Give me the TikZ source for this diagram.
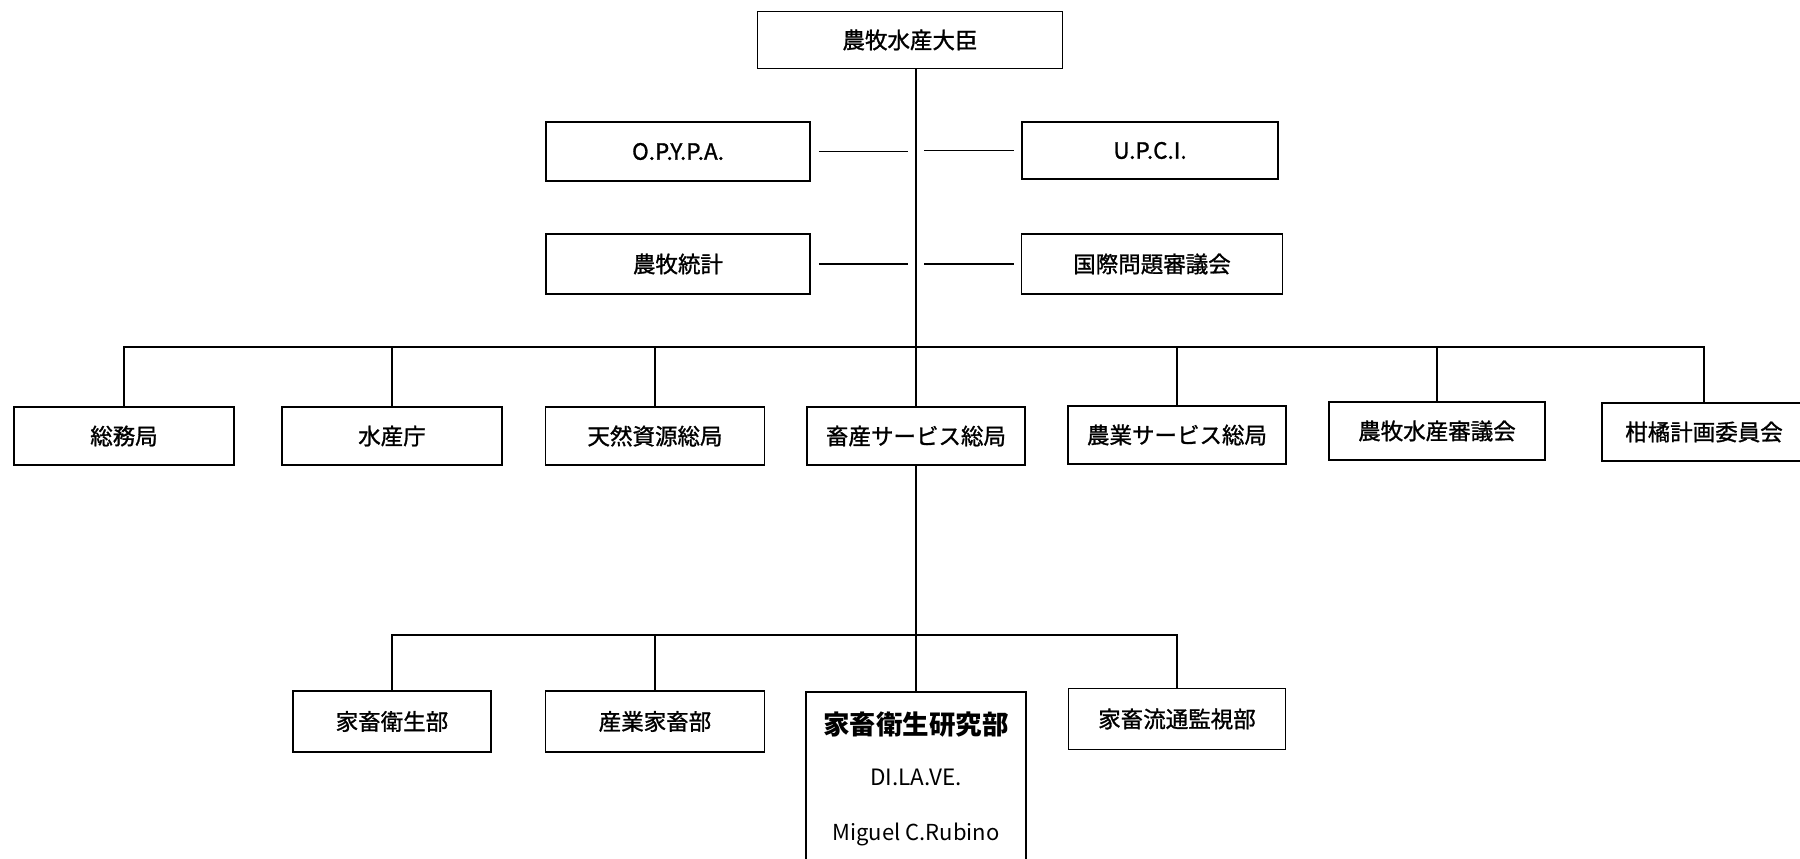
\documentclass[tikz,border=0pt]{standalone}
\usepackage{fontspec}
\setmainfont{Noto Sans CJK JP}
\newfontfamily\jpheavy[FakeBold=1.2]{Noto Sans CJK JP}
\begin{document}
\begin{tikzpicture}[x=1pt,y=-1pt,
  box/.style={draw, line width=1.8pt, inner sep=0pt, font=\jpheavy\fontsize{22.5}{26}\selectfont},
  ln/.style={line width=1.8pt},
  lbl/.style={inner sep=0pt}]
\useasboundingbox (0,0) rectangle (1800,859);
% top
\node[box, minimum width=305, minimum height=57] (min) at (910,40) {農牧水産大臣};
% staff units
\node[box, minimum width=264, minimum height=59] (opypa) at (678,151.5) {O.P.Y.P.A.};
\node[box, minimum width=256, minimum height=57] (upci) at (1150,150.5) {U.P.C.I.};
\node[box, minimum width=264, minimum height=60] (stat) at (678,264) {農牧統計};
\node[box, minimum width=261, minimum height=60] (intl) at (1152,264) {国際問題審議会};
% row 1
\node[box, minimum width=220, minimum height=58] (somu) at (124,436) {総務局};
\node[box, minimum width=220, minimum height=58] (suisan) at (392,436) {水産庁};
\node[box, minimum width=219, minimum height=58] (tennen) at (655,436) {天然資源総局};
\node[box, minimum width=218, minimum height=58] (chiku) at (916,436) {畜産サービス総局};
\node[box, minimum width=218, minimum height=58] (nogyo) at (1177,435) {農業サービス総局};
\node[box, minimum width=216, minimum height=58] (shingi) at (1437,431) {農牧水産審議会};
\node[box, minimum width=204, minimum height=58] (kankitsu) at (1704,432) {柑橘計画委員会};
% row 2
\node[box, minimum width=198, minimum height=61] (eisei) at (392,721.5) {家畜衛生部};
\node[box, minimum width=219, minimum height=61] (sangyo) at (655,721.5) {産業家畜部};
\node[box, minimum width=220, minimum height=190, anchor=north] (lab) at (916,691) {};
\node[box, minimum width=217, minimum height=61] (ryutsu) at (1177,719) {家畜流通監視部};
\node[lbl, font=\fontsize{26.5}{30}\bfseries] (labA) at (916,725) {家畜衛生研究部};
\node[lbl, font=\fontsize{22.5}{26}\selectfont] (labB) at (916,777) {DI.LA.VE.};
\node[lbl, font=\fontsize{22}{26}\selectfont] (labC) at (916,834) {Miguel C.Rubino};
% trunk
\coordinate (bar) at (916,347);
\coordinate (bar2) at (916,635);
\draw[ln] (chiku.north |- min.south) -- (chiku.north);
\draw[ln] (chiku.south) -- (lab.north);
% staff connectors
\draw[ln] ([xshift=8pt]opypa.east) -- ([xshift=-8pt]opypa.east -| chiku.north);
\draw[ln] ([xshift=8pt]upci.west -| chiku.north) -- ([xshift=-7pt]upci.west);
\draw[ln] ([xshift=8pt]stat.east) -- ([xshift=-8pt]stat.east -| chiku.north);
\draw[ln] ([xshift=8pt]intl.west -| chiku.north) -- ([xshift=-7pt]intl.west);
% row 1 bar
\draw[ln] (somu.north) -- (somu.north |- bar) -- (kankitsu.north |- bar) -- (kankitsu.north);
\draw[ln] (suisan.north) -- (suisan.north |- bar);
\draw[ln] (tennen.north) -- (tennen.north |- bar);
\draw[ln] (nogyo.north) -- (nogyo.north |- bar);
\draw[ln] (shingi.north) -- (shingi.north |- bar);
% row 2 bar
\draw[ln] (eisei.north) -- (eisei.north |- bar2) -- (ryutsu.north |- bar2) -- (ryutsu.north);
\draw[ln] (sangyo.north) -- (sangyo.north |- bar2);
\end{tikzpicture}
\end{document}
